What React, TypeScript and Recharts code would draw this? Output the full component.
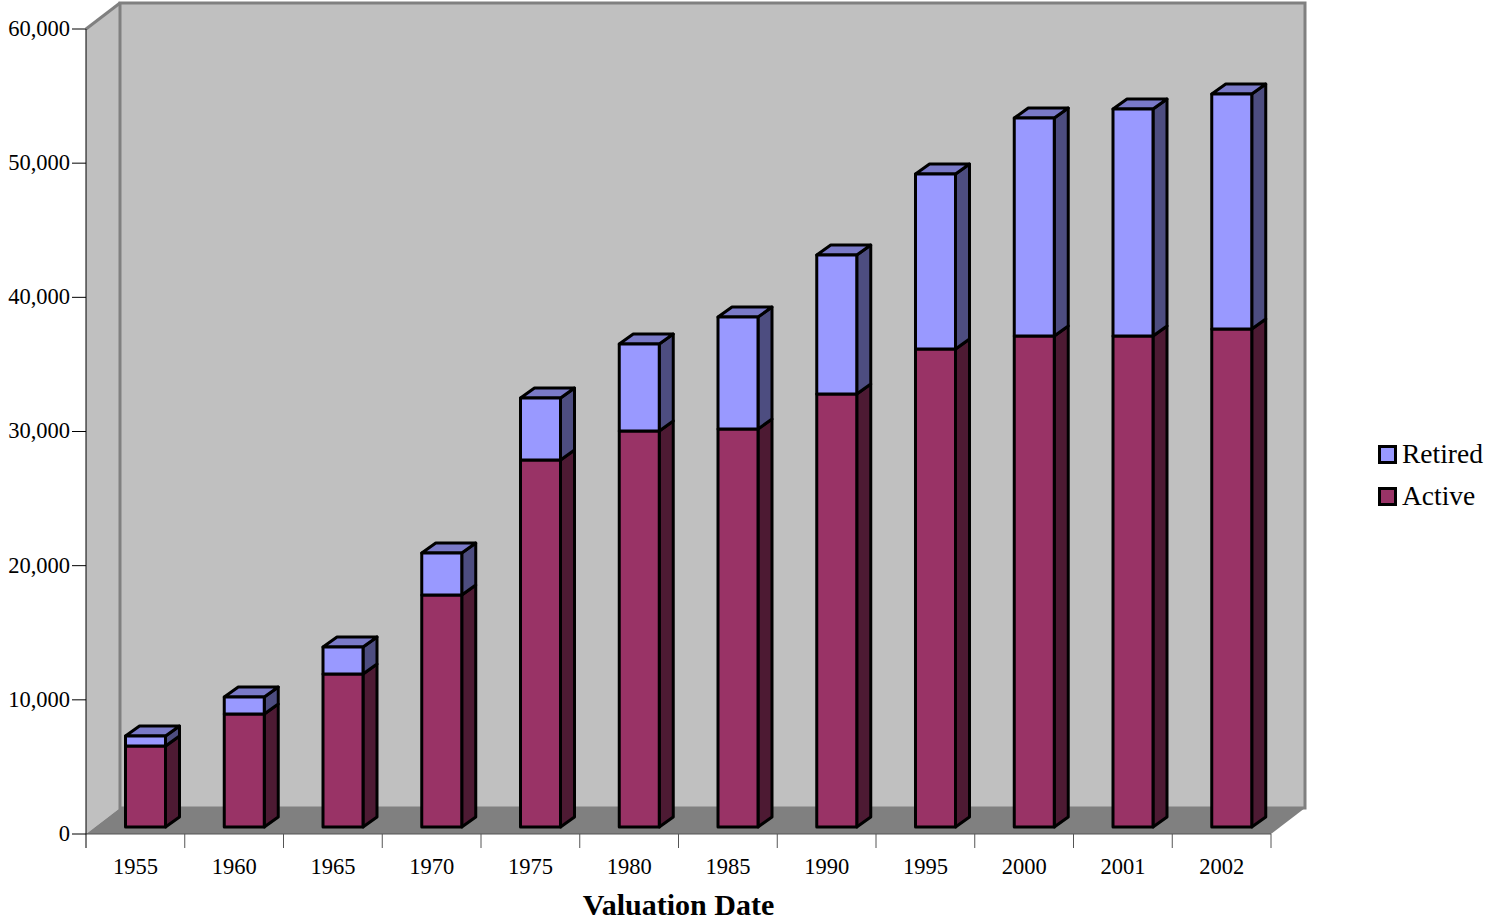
import React from "react";
import { BarChart, Bar, XAxis, YAxis, Legend, Label, usePlotArea } from "recharts";

const years = ["1955", "1960", "1965", "1970", "1975", "1980", "1985", "1990", "1995", "2000", "2001", "2002"];
const active = [6040, 8420, 11400, 17290, 27350, 29520, 29660, 32270, 35630, 36600, 36600, 37120];
const retired = [740, 1270, 2020, 3130, 4620, 6480, 8350, 10360, 13040, 16240, 16910, 17510];
const yTicks = [0, 10000, 20000, 30000, 40000, 50000, 60000];

const data = years.map((year, i) => ({ year, active: active[i], retired: retired[i] }));

const FONT = '"Liberation Serif", "Times New Roman", serif';
const WALL_DX = 34;
const WALL_DY = 26;
// bars stand a little way back from the front edge of the floor
const BAR_DX = 10.5;
const BAR_DY = 7;
const SIDE_DX = 14;
const SIDE_DY = 10;

const Walls = () => {
    const plot = usePlotArea();
    if (!plot) return null;
    const { x, y, width, height } = plot;
    const right = x + width;
    const bottom = y + height;
    return (
        <g>
            <polygon
                points={`${x},${y} ${x + WALL_DX},${y - WALL_DY} ${x + WALL_DX},${bottom - WALL_DY} ${x},${bottom}`}
                fill="#c0c0c0"
            />
            <rect
                x={x + WALL_DX}
                y={y - WALL_DY}
                width={width}
                height={height}
                fill="#c0c0c0"
                stroke="#808080"
                strokeWidth={3}
            />
            <line x1={x} y1={y} x2={x + WALL_DX} y2={y - WALL_DY} stroke="#808080" strokeWidth={3} />
            <polygon
                points={`${x},${bottom} ${x + WALL_DX},${bottom - WALL_DY} ${right + WALL_DX},${bottom - WALL_DY} ${right},${bottom}`}
                fill="#808080"
            />
        </g>
    );
};

const makeBar = (front: string, side: string, top?: string) => (props: any) => {
    const x = props.x + BAR_DX;
    const y = props.y - BAR_DY;
    const { width: w, height: h } = props;
    const line = { stroke: "#000", strokeWidth: 3, strokeLinejoin: "round" as const };
    return (
        <g>
            <polygon
                points={`${x + w},${y} ${x + w + SIDE_DX},${y - SIDE_DY} ${x + w + SIDE_DX},${y + h - SIDE_DY} ${x + w},${y + h}`}
                fill={side}
                {...line}
            />
            {top && (
                <polygon
                    points={`${x},${y} ${x + SIDE_DX},${y - SIDE_DY} ${x + w + SIDE_DX},${y - SIDE_DY} ${x + w},${y}`}
                    fill={top}
                    {...line}
                />
            )}
            <rect x={x} y={y} width={w} height={h} fill={front} {...line} />
        </g>
    );
};

const YearTick = (props: any) => {
    const { x, y, payload, index } = props;
    const step = 1185 / years.length;
    const left = x - step / 2;
    // recharts hands over y already pushed 8px below the axis line
    const axisY = y - 8;
    return (
        <g>
            <line x1={left} y1={axisY} x2={left} y2={axisY + 14} stroke={index === 0 ? "#000" : "#555"} strokeWidth={1} />
            {index === years.length - 1 && (
                <line x1={left + step} y1={axisY} x2={left + step} y2={axisY + 14} stroke="#555" strokeWidth={1} />
            )}
            <text x={x} y={axisY + 40} textAnchor="middle" fontSize={22.5} fontFamily={FONT} fill="#000">
                {payload.value}
            </text>
        </g>
    );
};

const LegendBox = ({ payload }: any) => (
    <div style={{ fontFamily: FONT, fontSize: 27.5, color: "#000" }}>
        {[...(payload || [])].reverse().map((item: any) => (
            <div key={item.value} style={{ display: "flex", alignItems: "center", height: 42 }}>
                <span
                    style={{
                        width: 13,
                        height: 13,
                        border: "3px solid #000",
                        background: item.color,
                        marginRight: 5,
                    }}
                />
                {item.value}
            </div>
        ))}
    </div>
);

const App = () => {
    return (
        <div style={{ position: "absolute", left: 0, top: 0 }}>
            <BarChart
                width={1486}
                height={919}
                data={data}
                barSize={40}
                barGap={0}
                margin={{ top: 29, right: 215, left: 0, bottom: 0 }}
            >
                <Walls />
                <XAxis
                    dataKey="year"
                    height={85}
                    interval={0}
                    tick={<YearTick />}
                    tickLine={false}
                    axisLine={{ stroke: "#555", strokeWidth: 1 }}
                >
                    <Label
                        value="Valuation Date"
                        position="insideBottom"
                        offset={4}
                        style={{ fontFamily: FONT, fontSize: 30, fontWeight: "bold", fill: "#000" }}
                    />
                </XAxis>
                <YAxis
                    width={86}
                    domain={[0, 60000]}
                    ticks={yTicks}
                    interval={0}
                    tickSize={14}
                    tickMargin={2}
                    tickFormatter={(v: number) => v.toLocaleString("en-US")}
                    tick={{ fontSize: 22.5, fontFamily: FONT, fill: "#000", dy: -1 }}
                    tickLine={{ stroke: "#000" }}
                    axisLine={{ stroke: "#000" }}
                />
                <Bar
                    dataKey="active"
                    name="Active"
                    stackId="a"
                    fill="#993366"
                    isAnimationActive={false}
                    shape={makeBar("#993366", "#4d1a33")}
                />
                <Bar
                    dataKey="retired"
                    name="Retired"
                    stackId="a"
                    fill="#9999ff"
                    isAnimationActive={false}
                    shape={makeBar("#9999ff", "#4d4d80", "#7a7ac8")}
                />
                <Legend
                    layout="vertical"
                    align="center"
                    verticalAlign="middle"
                    content={<LegendBox />}
                    wrapperStyle={{ position: "absolute", left: 1378, top: 433, width: 108 }}
                />
            </BarChart>
        </div>
    );
};

export default App;
